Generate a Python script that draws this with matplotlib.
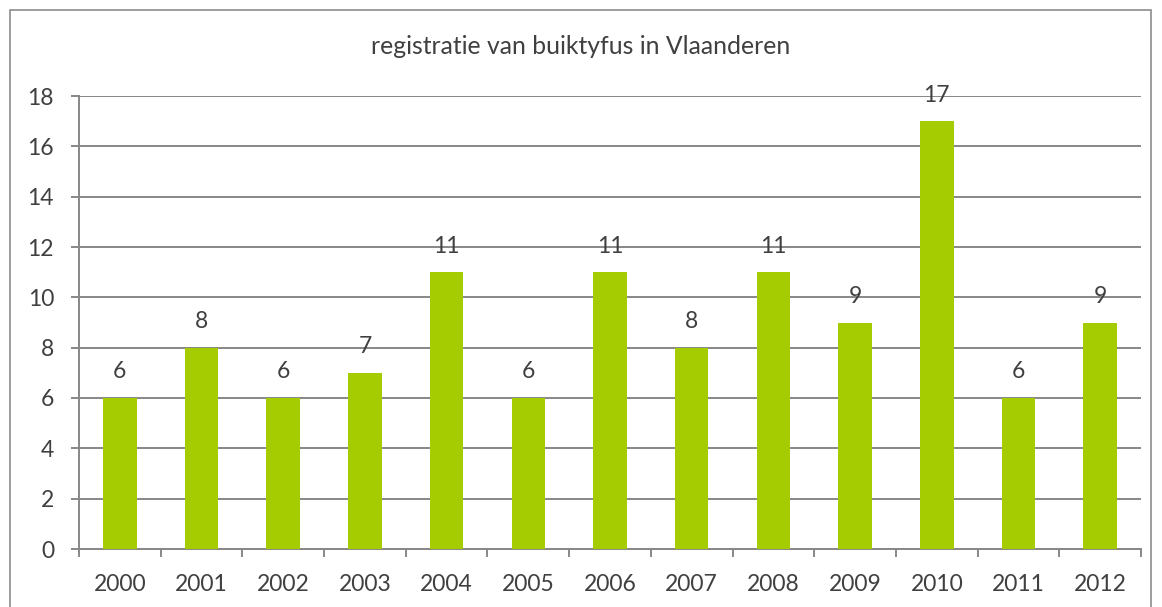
import matplotlib
matplotlib.use("Agg")
import matplotlib.pyplot as plt
import numpy as np
from matplotlib.patches import Rectangle

years = ["2000", "2001", "2002", "2003", "2004", "2005", "2006",
         "2007", "2008", "2009", "2010", "2011", "2012"]
cases = [6, 8, 6, 7, 11, 6, 11, 8, 11, 9, 17, 6, 9]
title = "registratie van buiktyfus in Vlaanderen"

plt.rcParams["font.family"] = ["Lato", "DejaVu Sans"]
TEXT = "#404040"
GRID = "#878787"
BAR = "#A5CC00"
FS = 16.5

W, H = 1162, 607
fig = plt.figure(figsize=(W / 100, H / 100), dpi=100)
ax = fig.add_axes([79 / W, 1 - 549 / H, (1141 - 79) / W, (549 - 96) / H])

x = np.arange(len(years))
ax.bar(x, cases, width=0.41, color=BAR, zorder=3)
for xi, v in zip(x, cases):
    ax.text(xi, v + 0.62, str(v), ha="center", va="bottom",
            fontsize=FS, color=TEXT)

ax.set_xlim(-0.5, len(years) - 0.5)
ax.set_ylim(0, 18)
ax.set_yticks(range(0, 19, 2))
ax.yaxis.grid(True, color=GRID, linewidth=1.4, zorder=0)
ax.set_xticks(x)
ax.set_xticklabels(years)
ax.set_xticks(np.arange(-0.5, len(years)), minor=True)
ax.tick_params(axis="x", which="major", length=0, pad=18,
               labelsize=FS, labelcolor=TEXT)
ax.tick_params(axis="x", which="minor", length=6, width=1.4, color=GRID)
ax.tick_params(axis="y", length=6, width=1.4, color=GRID, pad=12,
               labelsize=FS, labelcolor=TEXT)
for side in ("top", "right"):
    ax.spines[side].set_visible(False)
for side in ("left", "bottom"):
    ax.spines[side].set_color(GRID)
    ax.spines[side].set_linewidth(1.4)

fig.text(0.5, 1 - 46 / H, title, ha="center", va="center",
         fontsize=17.8, color=TEXT)

# chart frame
fig.patches.append(Rectangle((10 / W, -0.05), (1151 - 10) / W, 1.05 - 10 / H,
                             transform=fig.transFigure, fill=False,
                             edgecolor="#8c8c8c", linewidth=1.2))

fig.savefig("out.png", dpi=100)
